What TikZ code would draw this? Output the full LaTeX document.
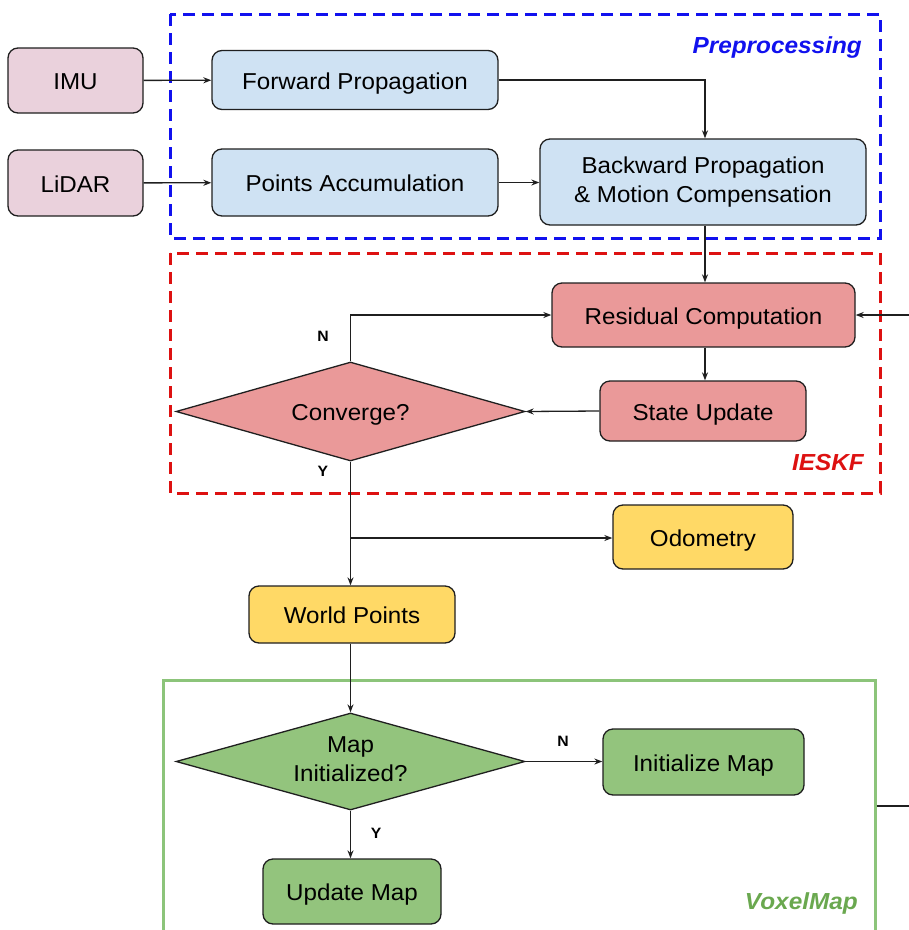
\documentclass[tikz,border=0pt]{standalone}
\usepackage{fontspec}
\setmainfont[FakeStretch=1.05]{Liberation Sans}
\usetikzlibrary{shapes.geometric,arrows.meta}
\definecolor{cpink}{HTML}{EAD1DC}
\definecolor{cblue}{HTML}{CFE2F3}
\definecolor{cred}{HTML}{EA9999}
\definecolor{cyel}{HTML}{FFD966}
\definecolor{cgreen}{HTML}{93C47D}
\definecolor{cline}{HTML}{1F1F1F}
\definecolor{gborder}{HTML}{8CC47A}
\definecolor{gtext}{HTML}{6AA84F}
\definecolor{rdash}{HTML}{DD1111}
\definecolor{bdash}{HTML}{1111EE}
\newcommand{\mystrut}{\rule[-5pt]{0pt}{28pt}}
\tikzset{
  txt/.style={inner sep=0pt, align=center, font=\fontsize{23}{29}\selectfont,
    execute at begin node=\mystrut, execute at end node=\mystrut},
  box/.style={txt, draw=cline, line width=1.3pt, rounded corners=10pt},
  dec/.style={txt, draw=cline, line width=1.3pt, shape=diamond, shape aspect=3.5},
  conn/.style={draw=cline, line width=1.3pt, -{Stealth[length=8pt,width=6pt]}},
  plain/.style={draw=cline, line width=1.3pt},
  yn/.style={font=\bfseries\fontsize{15}{18}\selectfont, inner sep=0pt},
  grp/.style={line width=3pt, dash pattern=on 12pt off 7pt},
  grplabel/.style={font=\bfseries\itshape\fontsize{23.2}{27}\selectfont, inner sep=0pt}
}
\begin{document}
\begin{tikzpicture}[x=1pt,y=-1pt]
\useasboundingbox (0,0) rectangle (909,930);
% groups
\draw[grp, draw=bdash] (170,14) rectangle (880,238);
\node[grplabel, text=bdash, anchor=east] (lpre) at (862,47) {Preprocessing};
\draw[grp, draw=rdash] (170,253) rectangle (880,493);
\node[grplabel, text=rdash, anchor=east] (lies) at (864,463) {IESKF};
\draw[line width=3pt, draw=gborder] (163,940) -- (163,680) -- (875,680) -- (875,940);
\node[grplabel, text=gtext, anchor=east] (lvox) at (858,903) {VoxelMap};
% nodes
\node[box, fill=cpink, minimum width=135pt, minimum height=65pt] (imu) at (75.5,80.5) {IMU};
\node[box, fill=cpink, minimum width=135pt, minimum height=66pt] (lidar) at (75.5,183) {LiDAR};
\node[box, fill=cblue, minimum width=286pt, minimum height=59pt] (fp) at (355,80) {Forward Propagation};
\node[box, fill=cblue, minimum width=286pt, minimum height=67pt] (pa) at (355,182.5) {Points Accumulation};
\node[box, fill=cblue, minimum width=326pt, minimum height=86pt] (bp) at (703,182) {Backward Propagation\\\& Motion Compensation};
\node[box, fill=cred, minimum width=303pt, minimum height=64pt] (rc) at (703.5,315) {Residual Computation};
\node[box, fill=cred, minimum width=206pt, minimum height=60pt] (su) at (703,411) {State Update};
\node[dec, fill=cred, minimum width=349pt, minimum height=99pt] (cv) at (350.5,411.5) {Converge?};
\node[box, fill=cyel, minimum width=180pt, minimum height=64pt] (od) at (703,537) {Odometry};
\node[box, fill=cyel, minimum width=206pt, minimum height=57pt] (wp) at (352,614.5) {World Points};
\node[dec, fill=cgreen, minimum width=349pt, minimum height=97pt] (mi) at (350.5,761.5) {Map\\Initialized?};
\node[box, fill=cgreen, minimum width=201pt, minimum height=66pt] (im) at (703.5,762) {Initialize Map};
\node[box, fill=cgreen, minimum width=178pt, minimum height=65pt] (um) at (352,891.5) {Update Map};
% connectors
\draw[conn] (imu) -- (fp);
\draw[conn] (lidar) -- (pa);
\draw[conn] (pa.east) -- (bp.west |- pa.east);
\draw[conn] (fp.east) -| (bp.north -| 705,0);
\draw[conn] (bp.south -| 705,0) -- (rc.north -| 705,0);
\draw[conn] (rc.south -| 705,0) -- (su.north -| 705,0);
\draw[conn] (su.west) -- (cv.east);
\draw[conn] (cv.north) |- (rc.west);
\node[yn] (ln) at (323,336) {N};
\draw[conn] (cv.south) -- (wp.north -| cv.south);
\node[yn] (ly) at (323,471) {Y};
\coordinate (br) at (350.5,538);
\draw[conn] (br) -- (od.west |- br);
\draw[conn] (wp.south -| mi.north) -- (mi.north);
\draw[conn] (mi.east) -- (im.west |- mi.east);
\node[yn] (ln2) at (563,741) {N};
\draw[conn] (mi.south) -- (um.north -| mi.south);
\node[yn] (ly2) at (376,833) {Y};
\coordinate (eout) at (909,806);
\coordinate (vr) at (876.5,806);
\draw[plain] (vr) -- (eout);
\coordinate (ein) at (909,315);
\draw[conn] (ein) -- (rc.east);
\end{tikzpicture}
\end{document}
